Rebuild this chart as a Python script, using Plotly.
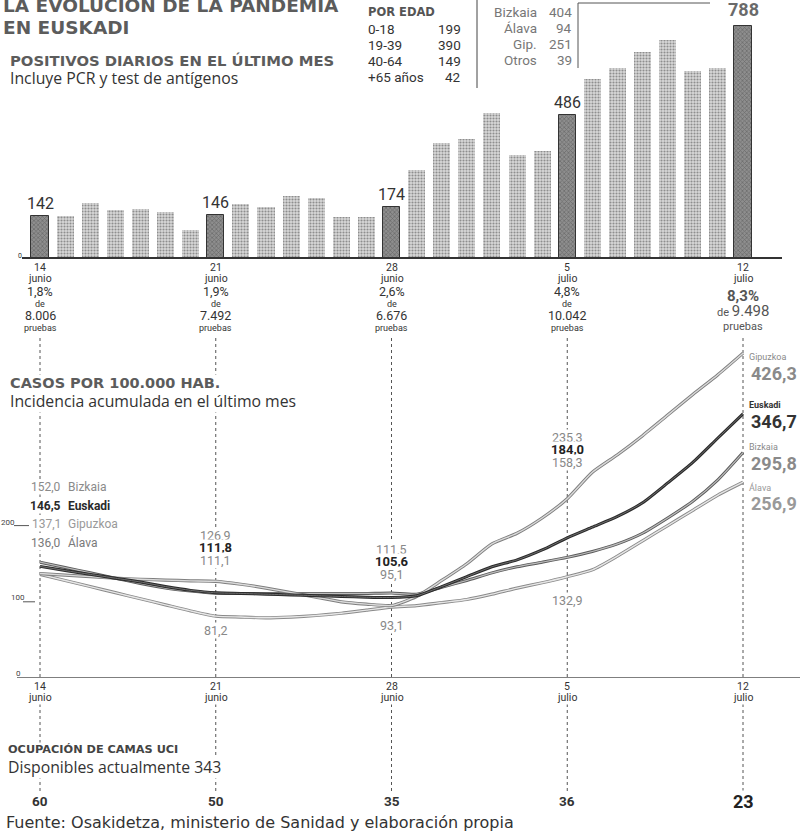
import plotly.graph_objects as go
import pandas as pd

W, H = 800, 836

# ---------------- data ----------------
dates = pd.date_range("2021-06-14", "2021-07-12", freq="D")
daily_positives = [142, 143, 187, 163, 167, 156, 95,
                   146, 184, 173, 211, 204, 139, 139,
                   174, 299, 391, 405, 493, 350, 364,
                   486, 609, 646, 701, 741, 636, 646,
                   788]
highlight_idx = [0, 7, 14, 21, 28]

week_dates = ["2021-06-14", "2021-06-21", "2021-06-28", "2021-07-05", "2021-07-12"]
week_day = ["14", "21", "28", "5", "12"]
week_month = ["junio", "junio", "junio", "julio", "julio"]
positivity = ["1,8%", "1,9%", "2,6%", "4,8%", "8,3%"]
tests = ["8.006", "7.492", "6.676", "10.042", "9.498"]
icu_beds = ["60", "50", "35", "36", "23"]

age_groups = ["0-18", "19-39", "40-64", "+65 años"]
age_cases = [199, 390, 149, 42]
territories = ["Bizkaia", "Álava", "Gip.", "Otros"]
territory_cases = [404, 94, 251, 39]

inc_gipuzkoa = [137.1, 135, 133, 131, 129.5, 128.5, 127.5,
                126.9, 123, 118, 112, 106, 100, 97,
                95.1, 107, 128, 150, 176, 190, 210,
                235.3, 270, 293, 318, 345, 372, 398,
                426.3]
inc_euskadi = [146.5, 141, 136, 131, 126, 120, 115,
               111.8, 111, 110, 109, 108, 107, 106,
               105.6, 108, 120, 133, 146, 155, 168,
               184.0, 198, 212, 230, 256, 283, 315,
               346.7]
inc_bizkaia = [152.0, 145, 138, 131, 124, 118, 114,
               111.1, 111, 111, 111, 111, 111, 111,
               111.5, 110, 119, 128, 138, 146, 152,
               158.3, 166, 176, 190, 210, 232, 260,
               295.8]
inc_alava = [136.0, 128, 120, 112, 104, 96, 88,
             81.2, 80, 79, 80, 82, 85, 89,
             93.1, 95, 99, 103, 110, 118, 125,
             132.9, 142, 160, 180, 200, 220, 240,
             256.9]

inc_week_labels = {
    "2021-06-21": (["126,9", "111,8", "111,1"], "81,2"),
    "2021-06-28": (["111,5", "105,6", "95,1"], "93,1"),
    "2021-07-05": (["235,3", "184,0", "158,3"], "132,9"),
}
start_labels = [("152,0", "Bizkaia"), ("146,5", "Euskadi"), ("137,1", "Gipuzkoa"), ("136,0", "Álava")]
end_labels = [("Gipuzkoa", "426,3"), ("Euskadi", "346,7"), ("Bizkaia", "295,8"), ("Álava", "256,9")]

# ---------------- geometry ----------------
px_day = (743 - 40) / 28.0
x_start = dates[0] - pd.Timedelta(days=40 / px_day)
x_end = dates[0] + pd.Timedelta(days=(W - 40) / px_day)
xr = [x_start.strftime("%Y-%m-%d %H:%M:%S"), x_end.strftime("%Y-%m-%d %H:%M:%S")]

bar_base, bar_scale = 258, 0.294
line_base, line_scale, line_top = 678, 0.762, 330

def py(p):
    return 1 - p / H

fig = go.Figure()

# ---------------- bars ----------------
bar_colors, fg_colors, shapes_p, line_cols, line_w = [], [], [], [], []
for i in range(len(dates)):
    if i in highlight_idx:
        bar_colors.append("#8e8e8e"); fg_colors.append("#3a3a3a"); shapes_p.append("x")
        line_cols.append("#333"); line_w.append(1)
    else:
        bar_colors.append("#d8d8d8"); fg_colors.append("#858585"); shapes_p.append(".")
        line_cols.append("rgba(0,0,0,0)"); line_w.append(0)

fig.add_trace(go.Bar(
    x=dates, y=daily_positives, xaxis="x", yaxis="y",
    width=0.68 * 86400000,
    marker=dict(color=bar_colors, line=dict(color=line_cols, width=line_w),
                pattern=dict(shape=shapes_p, fgcolor=fg_colors, size=3, solidity=0.4)),
    hoverinfo="skip", showlegend=False,
))

# ---------------- lines ----------------
series = [
    (inc_alava, "#8a8a8a", "#e6e6e6", 3.2, 1.4),
    (inc_bizkaia, "#5a5a5a", "#bdbdbd", 3.0, 1.2),
    (inc_gipuzkoa, "#7e7e7e", "#dadada", 3.2, 1.4),
    (inc_euskadi, "#2a2a2a", "#6e6e6e", 3.0, 1.0),
]
for vals, outer, inner, wo, wi in series:
    for col, wd in ((outer, wo), (inner, wi)):
        fig.add_trace(go.Scatter(
            x=dates, y=vals, xaxis="x2", yaxis="y2", mode="lines",
            line=dict(color=col, width=wd, shape="spline", smoothing=0.6),
            hoverinfo="skip", showlegend=False,
        ))

# ---------------- helpers ----------------
def T(text, x, y, size=12, color="#333", family="Open Sans", xanchor="center",
      yanchor="middle", xref="paper", yref="paper", bg=None, bold=False, yshift=0):
    if xref == "paper":
        x = x / W
    if yref == "paper":
        y = py(y)
    fig.add_annotation(text=text, x=x, y=y, xref=xref, yref=yref, xanchor=xanchor,
                       yanchor=yanchor, showarrow=False, yshift=yshift, borderpad=0,
                       bgcolor=bg,
                       font=dict(size=size, color=color, family=family,
                                 weight="bold" if bold else "normal"))

def L(x0, y0, x1, y1, color="#444", width=1, dash=None, xref="paper", yref="paper", layer="above"):
    if xref == "paper":
        x0, x1 = x0 / W, x1 / W
    if yref == "paper":
        y0, y1 = py(y0), py(y1)
    fig.add_shape(type="line", x0=x0, x1=x1, y0=y0, y1=y1, xref=xref, yref=yref,
                  line=dict(color=color, width=width, dash=dash), layer=layer)

# dashed week guides
for d in week_dates:
    L(d, 338, d, 795, color="#555", width=1, dash="3px,3px", xref="x", layer="below")

# axes lines
L(22, bar_base, 782, bar_base, color="#333", width=2)
L(17, 0, 800, 0, color="#555", width=1.5, yref="y2")
L(14, 200, 29, 200, color="#555", width=1, yref="y2")
L(23, 100, 35, 100, color="#555", width=1, yref="y2")

# header separators
L(477, 0, 477, 88, color="#444", width=1)
L(578, 3, 578, 68, color="#555", width=1)
L(578, 3, 710, 3, color="#555", width=1)

# ---------------- header text ----------------
HEAD = "DejaVu Sans"
BODY = 15.8
T("LA EVOLUCIÓN DE LA PANDEMIA", 2, 6, 18.5, "#5c5c5c", HEAD, "left", bold=True)
T("EN EUSKADI", 2, 27, 18.5, "#5c5c5c", HEAD, "left", bold=True)
T("POSITIVOS DIARIOS EN EL ÚLTIMO MES", 9, 61, 14.8, "#5c5c5c", HEAD, "left", bold=True)
T("Incluye PCR y test de antígenos", 9, 78, BODY, "#333", "Open Sans", "left")

T("POR EDAD", 367, 12, 11.5, "#555", HEAD, "left", bold=True)
for k, (g, v) in enumerate(zip(age_groups, age_cases)):
    yy = 29 + k * 16
    T(g, 367, yy, 13.5, "#333", "Roboto", "left")
    T(str(v), 462, yy, 13.5, "#333", "Roboto", "right")
for k, (g, v) in enumerate(zip(territories, territory_cases)):
    yy = 12 + k * 16
    T(g, 538, yy, 13.5, "#777", "Roboto", "right")
    T(str(v), 573, yy, 13.5, "#777", "Roboto", "right")

# bar value labels
for i in highlight_idx:
    big = i == highlight_idx[-1]
    T(str(daily_positives[i]), dates[i], daily_positives[i],
      18 if big else 16, "#6a6a6a" if big else "#333", "Roboto",
      xref="x", yref="y", yanchor="bottom", bold=big, yshift=5 if big else 2)
T("0", 20, 256, 7, "#333", "Roboto")

# week labels below bars
for k, d in enumerate(week_dates):
    T(week_day[k], d, 267, 10.5, "#333", "Roboto", xref="x")
    T(week_month[k], d, 278, 10.5, "#333", "Roboto", xref="x")
    if k < 4:
        T(positivity[k], d, 292, 12.5, "#333", "Roboto", xref="x")
        T("de", d, 304, 9, "#333", "Roboto", xref="x")
        T(tests[k], d, 315, 12.5, "#333", "Roboto", xref="x")
        T("pruebas", d, 328, 9, "#333", "Roboto", xref="x")
    else:
        T(positivity[k], d, 296, 15, "#555", "Roboto", xref="x", bold=True)
        T(f"<span style='font-size:11px'>de </span>{tests[k]}", d, 311, 15, "#555", "Roboto", xref="x")
        T("pruebas", d, 326, 11, "#555", "Roboto", xref="x")

# ---------------- incidence section ----------------
T("CASOS POR 100.000 HAB.", 9, 383, 14.5, "#5c5c5c", HEAD, "left", bold=True, bg="white")
T("Incidencia acumulada en el último mes", 9, 401, BODY, "#333", "Open Sans", "left", bg="white")

start_cols = ["#8a8a8a", "#2a2a2a", "#999", "#7a7a7a"]
for k, (num, name) in enumerate(start_labels):
    yy = 487 + k * 18.5
    bold = name == "Euskadi"
    T(num, 62, yy, 12, start_cols[k], "Roboto", "right", bg="white", bold=bold)
    T(name, 67, yy, 12, start_cols[k], "Roboto", "left", bg="white", bold=bold)

T("200", 8, 522, 8, "#444", "Roboto")
T("100", 18, 597, 8, "#444", "Roboto")
T("0", 18, 673, 8, "#444", "Roboto")

lab_cols = ["#888", "#222", "#888"]
for d, (tops, bottom) in inc_week_labels.items():
    base_y = 437 if d == "2021-07-05" else (535 if d == "2021-06-21" else 549)
    for j, txt in enumerate(tops):
        T(txt, d, base_y + j * 12.5, 12.5 if j != 1 else 13, lab_cols[j], "Roboto",
          xref="x", bg="white", bold=(j == 1))
    yb = {"2021-06-21": 630, "2021-06-28": 625, "2021-07-05": 600}[d]
    T(bottom, d, yb, 12.5, "#888", "Roboto", xref="x", bg="white")

end_cols = ["#8a8a8a", "#333", "#8a8a8a", "#999"]
end_y = [357, 405, 447, 487]
for k, (name, val) in enumerate(end_labels):
    bold = name == "Euskadi"
    T(name, 748, end_y[k], 9, end_cols[k], "Roboto", "left", bold=bold)
    T(val, 750, end_y[k] + 16, 18, end_cols[k], "Roboto", "left", bold=True)

for k, d in enumerate(week_dates):
    T(week_day[k], d, 686, 10.5, "#333", "Roboto", xref="x", bg="white")
    T(week_month[k], d, 697, 10.5, "#333", "Roboto", xref="x", bg="white")

# ---------------- ICU section ----------------
T("OCUPACIÓN DE CAMAS UCI", 7, 749, 11.3, "#444", HEAD, "left", bold=True, bg="white")
T("Disponibles actualmente 343", 7, 767, BODY, "#333", "Open Sans", "left", bg="white")
for k, d in enumerate(week_dates):
    last = k == len(week_dates) - 1
    T(icu_beds[k], d, 801, 18 if last else 13.5, "#222" if last else "#333", "Roboto",
      xref="x", bold=True, bg="white")

T("Fuente: Osakidetza, ministerio de Sanidad y elaboración propia", 5, 822, 16,
  "#333", "DejaVu Sans", "left")

# ---------------- layout ----------------
fig.update_layout(
    width=W, height=H, margin=dict(l=0, r=0, t=0, b=0),
    paper_bgcolor="white", plot_bgcolor="white", showlegend=False,
    bargap=0,
    xaxis=dict(type="date", range=xr, domain=[0, 1], visible=False, fixedrange=True),
    yaxis=dict(range=[0, bar_base / bar_scale], domain=[py(bar_base), 1], visible=False),
    xaxis2=dict(type="date", range=xr, domain=[0, 1], visible=False, anchor="y2"),
    yaxis2=dict(range=[0, (line_base - line_top) / line_scale], domain=[py(line_base), py(line_top)],
                visible=False, anchor="x2"),
)

fig.write_html("out.html", config={"displayModeBar": False},
               post_script="document.body.style.margin='0';")
